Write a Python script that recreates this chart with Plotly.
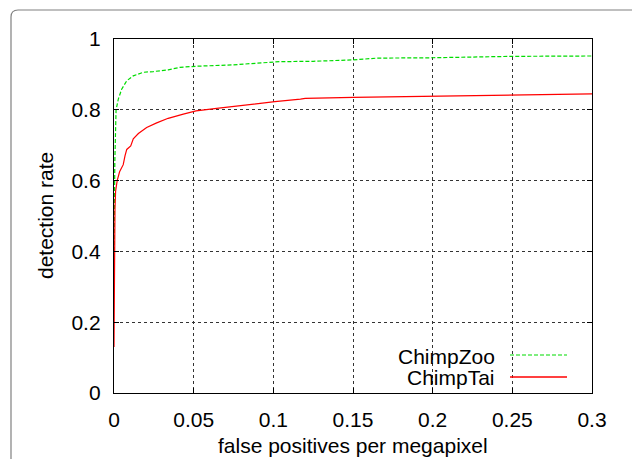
import plotly.graph_objects as go

# ---- data ----
tai_fp = [0, 0.0002, 0.0006, 0.001, 0.002, 0.0035, 0.0058, 0.0069, 0.008, 0.0105,
          0.0121, 0.0153, 0.0205, 0.0268, 0.034, 0.0435, 0.0515, 0.0644, 0.08,
          0.101, 0.117, 0.12, 0.15, 0.2, 0.25, 0.30]
tai_rate = [0.13, 0.35, 0.52, 0.57, 0.60, 0.625, 0.645, 0.67, 0.688, 0.698,
            0.718, 0.733, 0.750, 0.763, 0.776, 0.788, 0.797, 0.804, 0.813,
            0.823, 0.830, 0.832, 0.835, 0.838, 0.840, 0.845]

zoo_fp = [0, 0.0005, 0.0013, 0.0027, 0.0048, 0.008, 0.0121, 0.0184, 0.0247, 0.034,
          0.0414, 0.0515, 0.0747, 0.104, 0.125, 0.15, 0.165, 0.2, 0.25, 0.3]
zoo_rate = [0.35, 0.65, 0.80, 0.83, 0.858, 0.882, 0.896, 0.906, 0.908, 0.913,
            0.920, 0.923, 0.927, 0.936, 0.937, 0.941, 0.946, 0.947, 0.951, 0.952]

x_ticks = [0, 0.05, 0.1, 0.15, 0.2, 0.25, 0.3]
x_ticktext = ["0", "0.05", "0.1", "0.15", "0.2", "0.25", "0.3"]
y_ticks = [0, 0.2, 0.4, 0.6, 0.8, 1]
y_ticktext = ["0", "0.2", "0.4", "0.6", "0.8", "1"]

series_names = ["ChimpZoo", "ChimpTai"]
GREEN = "rgb(0,220,0)"
RED = "rgb(255,0,0)"

W, H = 632, 459
L, R, T, B = 114, 40, 39, 66
PW, PH = W - L - R, H - T - B


def px(x):
    return (x - L) / PW


def py(y):
    return (H - B - y) / PH


FONT = "Liberation Sans, Arial, Helvetica, sans-serif"
FS = 21

fig = go.Figure()
fig.add_trace(go.Scatter(x=zoo_fp, y=zoo_rate, mode="lines", name=series_names[0],
                         line=dict(color=GREEN, width=1.2, dash="4px,2px")))
fig.add_trace(go.Scatter(x=tai_fp, y=tai_rate, mode="lines", name=series_names[1],
                         line=dict(color=RED, width=1.2)))

axis_common = dict(
    showline=True, linecolor="black", linewidth=1.3, mirror="ticks",
    ticks="inside", ticklen=5, tickcolor="black", tickwidth=1,
    showgrid=True, gridcolor="#333", griddash="dot", gridwidth=1,
    zeroline=False, tickfont=dict(family=FONT, size=FS, color="black"),
)

fig.update_xaxes(range=[0, 0.3], tickvals=x_ticks, ticktext=x_ticktext,
                 ticklabelstandoff=8, **axis_common)
fig.update_yaxes(range=[0, 1], tickvals=y_ticks, ticktext=y_ticktext,
                 ticklabelstandoff=8, **axis_common)

annotations = [
    dict(text="false positives per megapixel", xref="paper", yref="paper",
         x=0.5, y=py(446), xanchor="center", yanchor="middle", showarrow=False,
         font=dict(family=FONT, size=FS, color="black")),
    dict(text="detection rate", xref="paper", yref="paper",
         x=px(45), y=0.5, xanchor="center", yanchor="middle", textangle=-90,
         showarrow=False, font=dict(family=FONT, size=FS, color="black")),
    dict(text=series_names[0], xref="paper", yref="paper",
         x=px(497), y=py(356), xanchor="right", yanchor="middle", showarrow=False,
         font=dict(family=FONT, size=FS, color="black")),
    dict(text=series_names[1], xref="paper", yref="paper",
         x=px(497), y=py(377), xanchor="right", yanchor="middle", showarrow=False,
         font=dict(family=FONT, size=FS, color="black")),
]

# outer rounded frame (extends past right/bottom edge)
fx0, fy0 = px(11), py(10)
fx1, fy1 = px(660), py(490)
rx, ry = 7 / PW, 7 / PH
frame_path = (f"M {fx0},{fy1} L {fx0},{fy0 - ry} Q {fx0},{fy0} {fx0 + rx},{fy0} "
              f"L {fx1},{fy0}")

shapes = [
    dict(type="path", xref="paper", yref="paper", path=frame_path,
         line=dict(color="#808080", width=1.2)),
    dict(type="line", xref="paper", yref="paper", x0=px(510), x1=px(567),
         y0=py(355), y1=py(355), line=dict(color=GREEN, width=1.2, dash="4px,2px")),
    dict(type="line", xref="paper", yref="paper", x0=px(510), x1=px(567),
         y0=py(377), y1=py(377), line=dict(color=RED, width=1.5)),
]

fig.update_layout(
    width=W, height=H,
    margin=dict(l=L, r=R, t=T, b=B, pad=0),
    paper_bgcolor="white", plot_bgcolor="white",
    showlegend=False,
    annotations=annotations, shapes=shapes,
    font=dict(family=FONT, size=FS, color="black"),
)

fig.write_html("out.html", config={"displayModeBar": False},
               post_script="document.body.style.margin='0';document.body.style.overflow='hidden';")
